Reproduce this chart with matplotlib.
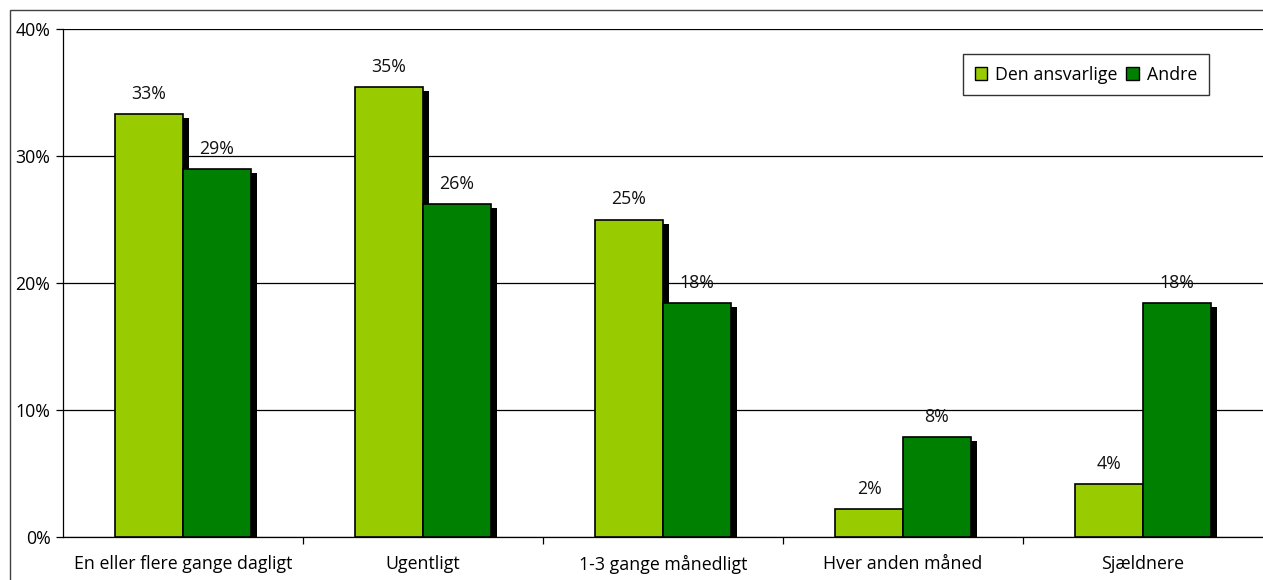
import numpy as np
import matplotlib.pyplot as plt
import matplotlib.transforms as mtransforms
from matplotlib.patches import Rectangle, Patch

plt.rcParams["font.family"] = ["Open Sans", "DejaVu Sans"]

# ── data ─────────────────────────────────────────────────────────────────────
categories = ["En eller flere gange dagligt", "Ugentligt", "1-3 gange månedligt",
              "Hver anden måned", "Sjældnere"]
den_ansvarlige = [33.3, 35.4, 25.0, 2.2, 4.2]
andre = [29.0, 26.2, 18.4, 7.9, 18.4]
series_names = ["Den ansvarlige", "Andre"]

light_green = "#99CC00"
dark_green = "#008000"
fs = 12.8

# ── figure ───────────────────────────────────────────────────────────────────
fig = plt.figure(figsize=(12.63, 5.80), dpi=100)
ax = fig.add_axes([63 / 1263, 1 - 537 / 580, 1200 / 1263, 508 / 580])

# outer chart frame
fig.patches.append(Rectangle((10 / 1263, -0.1), 1.2, 1 - 10 / 580 + 0.1,
                             transform=fig.transFigure, fill=False,
                             edgecolor="#404040", lw=1.0, zorder=0))

x = np.arange(len(categories))
w = 0.283

# drop shadows offset right/down
shadow = ax.transData + mtransforms.ScaledTranslation(6 / 100, -4 / 100, fig.dpi_scale_trans)
for xs, vals in [(x - w / 2, den_ansvarlige), (x + w / 2, andre)]:
    sb = ax.bar(xs, vals, w, color="black", zorder=2, linewidth=0)
    for p in sb:
        p.set_transform(shadow)

b1 = ax.bar(x - w / 2, den_ansvarlige, w, color=light_green, edgecolor="black",
            lw=1.2, zorder=3, label=series_names[0])
b2 = ax.bar(x + w / 2, andre, w, color=dark_green, edgecolor="black",
            lw=1.2, zorder=3, label=series_names[1])

for bars, vals in [(b1, den_ansvarlige), (b2, andre)]:
    for bar, v in zip(bars, vals):
        ax.annotate(f"{v:.0f}%", (bar.get_x() + bar.get_width() / 2, v),
                    xytext=(0, 8), textcoords="offset points",
                    ha="center", va="bottom", fontsize=fs, color="#111111")

ax.set_ylim(0, 40)
ax.set_xlim(-0.5, len(categories) - 0.5)
ax.set_yticks(np.arange(0, 41, 10))
ax.set_yticklabels([f"{v}%" for v in range(0, 41, 10)], fontsize=fs)
ax.yaxis.grid(True, color="black", lw=0.9)
ax.set_axisbelow(True)

ax.set_xticks(x)
ax.set_xticklabels(categories, fontsize=fs)
ax.tick_params(axis="x", length=0, pad=13)
ax.set_xticks(np.arange(0.5, len(categories) - 0.5, 1), minor=True)
ax.tick_params(axis="x", which="minor", length=5, width=0.9, direction="out")
ax.tick_params(axis="y", length=5, width=0.9, direction="out", pad=4)

for s in ["top", "right"]:
    ax.spines[s].set_visible(False)
ax.spines["left"].set_linewidth(0.9)
ax.spines["bottom"].set_linewidth(0.9)

handles = [Patch(facecolor=light_green, edgecolor="black"),
           Patch(facecolor=dark_green, edgecolor="black")]
leg = ax.legend(handles, series_names, loc="upper left",
                bbox_to_anchor=((963 - 63) / 1200, (537 - 54) / 508),
                ncol=2, fontsize=fs, frameon=True, fancybox=False,
                handlelength=0.7, handleheight=0.7, handletextpad=0.45,
                columnspacing=0.5, borderpad=0.65, borderaxespad=0)
leg.get_frame().set_edgecolor("black")
leg.get_frame().set_linewidth(1.0)

fig.savefig("out.png", dpi=100)
